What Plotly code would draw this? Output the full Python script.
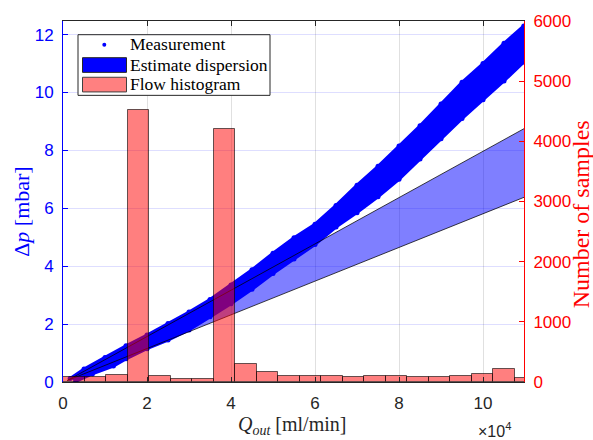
import plotly.graph_objects as go

# ---------------- data (x in units of 1e4 ml/min) ----------------
meas_upper_x = [0.17, 0.5, 1.0, 1.5, 2.0, 2.5, 3.0, 3.5, 4.0, 4.5, 5.0, 5.5,
                6.0, 6.5, 7.0, 7.5, 8.0, 8.5, 9.0, 9.5, 10.0, 10.5, 10.97]
meas_upper_y = [0.12, 0.45, 0.85, 1.25, 1.62, 2.02, 2.42, 2.85, 3.35, 3.88, 4.45, 4.98,
                5.45, 6.1, 6.8, 7.45, 8.15, 8.85, 9.6, 10.35, 11.0, 11.7, 12.3]
meas_lower_x = [0.3, 0.7, 1.2, 1.5, 2.0, 2.5, 3.0, 3.5, 4.0, 4.5, 5.0, 5.5,
                6.0, 6.5, 7.0, 7.5, 8.0, 8.5, 9.0, 9.5, 10.0, 10.5, 10.97]
meas_lower_y = [0.02, 0.28, 0.55, 0.8, 1.15, 1.45, 1.8, 2.25, 2.7, 3.2, 3.75, 4.25,
                4.75, 5.35, 5.85, 6.4, 7.0, 7.7, 8.4, 9.1, 9.75, 10.4, 11.05]

# Estimate dispersion band
disp_x = [0.1, 11.2]
disp_upper = [0.05, 8.93]
disp_lower = [0.05, 6.51]

# Flow histogram
bin_width = 0.512
hist_counts = [90, 76, 120, 4520, 95, 45, 45, 4200, 300, 163, 108, 108,
               98, 87, 92, 108, 76, 76, 98, 125, 222, 65]

x_ticks = [0, 2, 4, 6, 8, 10]
y_ticks = [0, 2, 4, 6, 8, 10, 12]
y2_ticks = [0, 1000, 2000, 3000, 4000, 5000, 6000]

legend_labels = ["Measurement", "Estimate dispersion", "Flow histogram"]

# ---------------- figure ----------------
fig = go.Figure()

cloud_x = meas_upper_x + meas_lower_x[::-1]
cloud_y = meas_upper_y + meas_lower_y[::-1]
fig.add_trace(go.Scatter(x=cloud_x, y=cloud_y, mode="lines", fill="toself",
                         fillcolor="#0000FF", line=dict(color="#0000FF", width=3),
                         showlegend=False, hoverinfo="skip"))
fig.add_trace(go.Scatter(x=meas_upper_x + meas_lower_x, y=meas_upper_y + meas_lower_y,
                         mode="markers", name=legend_labels[0], showlegend=False,
                         marker=dict(color="#0000FF", size=5)))

band_x = disp_x + disp_x[::-1]
band_y = disp_upper + disp_lower[::-1]
fig.add_trace(go.Scatter(x=band_x, y=band_y, mode="lines", fill="toself",
                         fillcolor="rgba(0,0,255,0.5)", name=legend_labels[1],
                         line=dict(color="rgba(0,0,0,0.75)", width=1),
                         showlegend=False, hoverinfo="skip"))

centers = [(i + 0.5) * bin_width for i in range(len(hist_counts))]
fig.add_trace(go.Bar(x=centers, y=hist_counts, width=bin_width, yaxis="y2",
                     name=legend_labels[2],
                     marker=dict(color="rgba(255,0,0,0.5)",
                                 line=dict(color="rgba(0,0,0,0.6)", width=1)),
                     showlegend=False))

# ---------------- legend box (drawn in paper coordinates) ----------------
L, T, PW, PH = 63, 13, 461, 369   # plot-area origin and size in px


def px(xp):
    return (xp - L) / PW


def py(yp):
    return (T + PH - yp) / PH


shapes = [
    dict(type="rect", xref="paper", yref="paper", x0=px(78), x1=px(270),
         y0=py(89), y1=py(27), fillcolor="white", line=dict(color="#262626", width=1)),
    dict(type="circle", xref="paper", yref="paper", x0=px(102.3), x1=px(106.3),
         y0=py(39.3), y1=py(35.3), fillcolor="#0000FF", line=dict(width=0)),
    dict(type="rect", xref="paper", yref="paper", x0=px(82.5), x1=px(126.5),
         y0=py(65.5), y1=py(50.5), fillcolor="#0000FF", line=dict(color="#262626", width=1)),
    dict(type="rect", xref="paper", yref="paper", x0=px(82.5), x1=px(126.5),
         y0=py(85.5), y1=py(70.5), fillcolor="#FF8080", line=dict(color="#404040", width=1)),
]
legend_rows = [37.0, 57.5, 77.5]
legend_ann = [dict(text=lab, x=px(128), y=py(yr), xref="paper", yref="paper",
                   xanchor="left", yanchor="middle", showarrow=False,
                   font=dict(family="Liberation Serif", size=17.5, color="#000000"))
              for lab, yr in zip(legend_labels, legend_rows)]

tickfont = dict(family="Liberation Sans, Arial", size=17)
fig.update_layout(
    width=593, height=440,
    margin=dict(l=63, r=69, t=13, b=58),
    plot_bgcolor="white", paper_bgcolor="white",
    bargap=0,
    showlegend=False,
    xaxis=dict(range=[0, 10.976], tickvals=x_ticks, ticks="inside", ticklen=5,
               tickcolor="#262626", showline=True, linecolor="#262626", linewidth=1,
               mirror="ticks", showgrid=True, gridcolor="rgba(0,0,0,0.12)",
               zeroline=False, tickfont=dict(tickfont, color="#262626"),
               ticklabelstandoff=6),
    yaxis=dict(range=[0, 12.47], tickvals=y_ticks, ticks="inside", ticklen=5,
               tickcolor="#0000FF", showline=True, linecolor="#0000FF", linewidth=1,
               showgrid=True, gridcolor="rgba(0,0,255,0.13)", zeroline=False,
               tickfont=dict(tickfont, color="#0000FF"), ticklabelstandoff=5),
    yaxis2=dict(range=[0, 6000], tickvals=y2_ticks, overlaying="y", side="right",
                ticks="inside", ticklen=5, tickcolor="#FF0000", showline=True,
                linecolor="#FF0000", linewidth=1, showgrid=False, zeroline=False,
                tickfont=dict(tickfont, color="#FF0000"), ticklabelstandoff=5),
    shapes=shapes,
    annotations=[
        dict(text="Δ<i>p</i> [mbar]", x=-0.089, y=0.474, xref="paper", yref="paper",
             textangle=-90, showarrow=False, xanchor="center", yanchor="middle",
             font=dict(family="Liberation Serif", size=22, color="#0000FF")),
        dict(text="Number of samples", x=1.124, y=0.465, xref="paper", yref="paper",
             textangle=-90, showarrow=False, xanchor="center", yanchor="middle",
             font=dict(family="Liberation Serif", size=24, color="#FF0000")),
        dict(text="<i>Q<sub>out</sub></i> [ml/min]", x=0.497, y=-0.12, xref="paper",
             yref="paper", showarrow=False, xanchor="center", yanchor="middle",
             font=dict(family="Liberation Serif", size=20, color="#262626")),
        dict(text="×10<sup>4</sup>", x=0.976, y=-0.133, xref="paper", yref="paper",
             showarrow=False, xanchor="right", yanchor="middle",
             font=dict(family="Liberation Sans, Arial", size=16, color="#262626")),
    ] + legend_ann,
)

fig.write_html("out.html")
